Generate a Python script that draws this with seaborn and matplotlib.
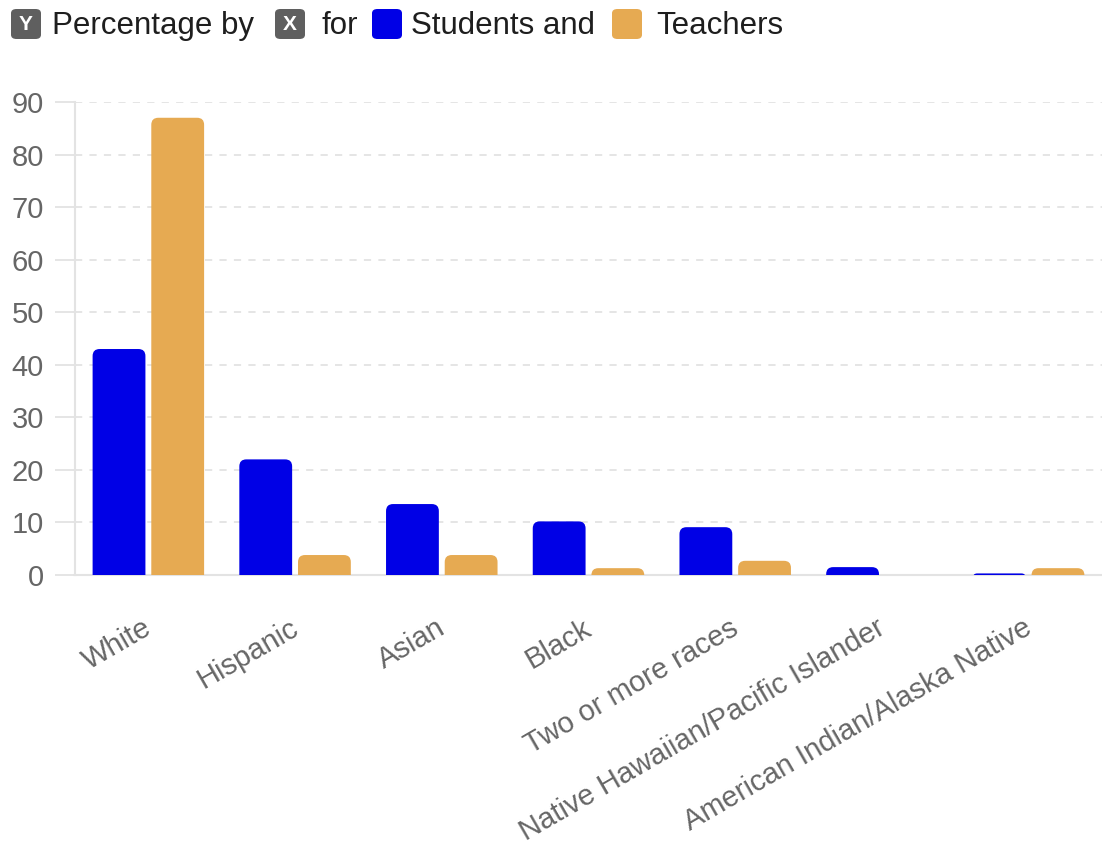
import matplotlib
matplotlib.use("Agg")
import matplotlib.pyplot as plt
from matplotlib.patches import FancyBboxPatch
from matplotlib.transforms import offset_copy
import seaborn as sns
import pandas as pd

categories = ["White", "Hispanic", "Asian", "Black", "Two or more races",
              "Native Hawaiian/Pacific Islander", "American Indian/Alaska Native"]
students = [43, 22, 13.5, 10.2, 9.1, 1.5, 0.3]
teachers = [87, 3.8, 3.8, 1.3, 2.7, 0, 1.3]
series = ["Students", "Teachers"]
colors = {"Students": "#0000E6", "Teachers": "#E6AA52"}

df = pd.DataFrame({
    "Race": categories * 2,
    "Percentage": students + teachers,
    "Group": [series[0]] * len(categories) + [series[1]] * len(categories),
})

sns.set_theme(style="white")
plt.rcParams['font.family'] = ['Liberation Sans', 'DejaVu Sans']

fig = plt.figure(figsize=(11.02, 8.5), dpi=100)
W, H = 1102, 850
ax = fig.add_axes([75 / W, (H - 575) / H, 1027 / W, (575 - 102) / H])

sns.barplot(data=df, x="Race", y="Percentage", hue="Group", palette=colors,
            width=0.8, gap=0.1, ax=ax, legend=False, saturation=1)

ax.set_ylim(0, 90)
ax.set_xlim(-0.5, len(categories) - 0.5)

# rounded top corners
fig.canvas.draw()
xpp = (ax.get_xlim()[1] - ax.get_xlim()[0]) / ax.bbox.width
ypp = (ax.get_ylim()[1] - ax.get_ylim()[0]) / ax.bbox.height
r_px = 7
for p in list(ax.patches):
    x0, y0, w, h = p.get_x(), p.get_y(), p.get_width(), p.get_height()
    if h <= 0:
        p.remove()
        continue
    fc = p.get_facecolor()
    ext = r_px * ypp
    tot = h + ext
    r_x = r_px * xpp
    r_eff = min(r_x, (tot / 2) / (ypp / xpp))
    fb = FancyBboxPatch((x0, y0 - ext), w, tot,
                        boxstyle=f"round,pad=0,rounding_size={r_eff}",
                        mutation_aspect=ypp / xpp,
                        facecolor=fc, edgecolor="none", zorder=3)
    p.remove()
    ax.add_patch(fb)

ax.set_yticks(range(0, 91, 10))
ax.grid(axis="y", color="#e3e3e3", linestyle=(0, (4, 4)), linewidth=1.3, zorder=0)
ax.set_axisbelow(True)
for s in ["top", "right"]:
    ax.spines[s].set_visible(False)
for s in ["left", "bottom"]:
    ax.spines[s].set_color("#e3e3e3")
    ax.spines[s].set_linewidth(1.5)
ax.tick_params(axis="y", length=14.4, width=1.3, color="#e3e3e3", labelsize=21,
               labelcolor="#666666", pad=8, left=True)
ax.tick_params(axis="x", length=0, labelsize=21, labelcolor="#666666", pad=0)
ax.set_xticks(range(len(categories)))
ax.set_xticklabels(categories, rotation=30, ha="right", va="center",
                   rotation_mode="anchor")
for lbl in ax.get_xticklabels():
    lbl.set_transform(offset_copy(lbl.get_transform(), fig=fig, x=1, y=-51, units="dots"))
ax.set_xlabel("")
ax.set_ylabel("")

# header legend
fs = 22.5
ty = 1 - 26 / H

def badge(x_px, letter, color, w_px=30, h_px=30):
    bx = FancyBboxPatch((x_px / W, (H - 24 - h_px / 2) / H), w_px / W, h_px / H,
                        boxstyle="round,pad=0,rounding_size=0.005",
                        transform=fig.transFigure, facecolor=color,
                        edgecolor="none", figure=fig)
    fig.patches.append(bx)
    if letter:
        fig.text((x_px + w_px / 2) / W, 1 - 24 / H, letter, color="white", fontsize=15,
                 fontweight="bold", ha="center", va="center")

def text(x_px, s):
    fig.text(x_px / W, ty, s, fontsize=fs, color="#1e1e1e", ha="left", va="center")

badge(11, "Y", "#5f5f5f")
text(52, "Percentage by")
badge(275, "X", "#5f5f5f")
text(321, "for")
badge(372, "", colors["Students"])
text(411, "Students and")
badge(612, "", colors["Teachers"])
text(656, "Teachers")

fig.savefig("out.png", dpi=100)
